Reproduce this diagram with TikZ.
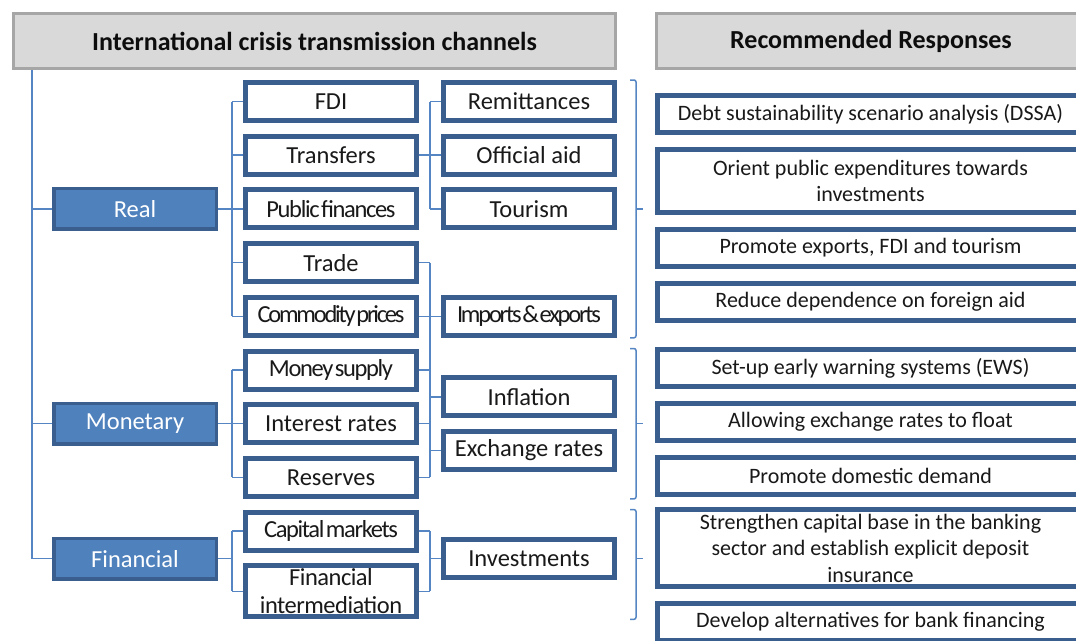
\documentclass[tikz,border=0pt]{standalone}
\usepackage{fontspec}
\setmainfont{Carlito}
\newfontfamily\tightfont[LetterSpace=-5.5, WordSpace=0.35]{Carlito}
\newfontfamily\tighterfont[LetterSpace=-9, WordSpace=0.2]{Carlito}
\newfontfamily\slimfont[LetterSpace=-2]{Carlito}
\usetikzlibrary{positioning,calc}
\definecolor{boxblue}{HTML}{3A5F8E}
\definecolor{catblue}{HTML}{4F81BD}
\definecolor{linkblue}{HTML}{5585C2}
\definecolor{headfill}{HTML}{D9D9D9}
\definecolor{headline}{HTML}{A6A6A6}

\begin{document}
\begin{tikzpicture}[x=1pt, y=-1pt, node distance=10.7pt and 22pt, box/.style={
% The shape:
rectangle, minimum width=171pt, minimum height=38pt, inner sep=0pt,
% The border:
draw=boxblue, line width=5pt, fill=white,
% The text:
text=black!90, font=\fontsize{24.5}{28}\selectfont
}, cat/.style={box, fill=catblue, line width=3.5pt, minimum width=162.5pt, minimum height=40.5pt, text=white},
tight/.style={font=\tightfont\fontsize{24.5}{28}\selectfont},
tighter/.style={font=\tighterfont\fontsize{24.5}{28}\selectfont},
resp/.style={box, anchor=west, minimum width=426pt, minimum height=37pt, align=center, font=\fontsize{22}{26.5}\selectfont},
head/.style={rectangle, draw=headline, fill=headfill, line width=3pt, minimum height=55pt, inner sep=0pt, text=black!95, font=\bfseries\fontsize{26}{30}\selectfont},
link/.style={draw=linkblue, line width=1.5pt}]

	\useasboundingbox (0,0) rectangle (1076,640);
	\clip (0,0) rectangle (1076,640);

	% headers
	\node (chan) [head, minimum width=602pt] at (314.5,41) {International crisis transmission channels};
	\node (recs) [head, minimum width=429pt] at (871,41) {Recommended Responses};

	% channels
	\node (fdi) [box] at (331,101.5) {FDI};
	\node (transfers) [box, below=of fdi] {Transfers};
	\node (pubfin) [box, tight, below=of transfers] {Public finances};
	\node (trade) [box, below=of pubfin] {Trade};
	\node (commod) [box, tighter, below=of trade] {Commodity prices};
	\node (money) [box, tight, below=of commod] {Money supply};
	\node (interest) [box, below=of money] {Interest rates};
	\node (reserves) [box, below=of interest] {Reserves};
	\node (capital) [box, tight, below=of reserves] {Capital markets};
	\node (finint) [box, below=of capital, minimum height=51pt, align=center, font=\slimfont\fontsize{24.5}{28}\selectfont] {Financial\\intermediation};

	\node (real) [cat, left=25pt of pubfin] {Real};
	\node (mon) [cat, left=25pt of interest] {Monetary};
	\coordinate (capfin) at ([yshift=2.5pt]$(capital.west)!.5!(finint.west)$);
	\node (fin) [cat, left=25pt of capfin] {Financial};

	\node (remit) [box, right=of fdi] {Remittances};
	\node (offaid) [box, right=of transfers] {Official aid};
	\node (tourism) [box, right=of pubfin] {Tourism};
	\node (imports) [box, tighter, right=of commod] {Imports \& exports};
	\coordinate (mi) at ($(money.east)!.5!(interest.east)$);
	\node (inflation) [box, right=of mi] {Inflation};
	\coordinate (ir) at ($(interest.east)!.5!(reserves.east)$);
	\node (exchange) [box, right=of ir] {Exchange rates};
	\coordinate (cf) at ([yshift=2.5pt]$(capital.east)!.5!(finint.east)$);
	\node (invest) [box, right=of cf] {Investments};

	% responses
	\node (dssa) [resp] at (655,114) {Debt sustainability scenario analysis (DSSA)};
	\node (orient) [resp, below=12pt of dssa, minimum height=63pt] {Orient public expenditures towards\\investments};
	\node (exports) [resp, below=12pt of orient] {Promote exports, FDI and tourism};
	\node (aid) [resp, below=12pt of exports] {Reduce dependence on foreign aid};
	\node (ews) [resp, below=24pt of aid] {Set-up early warning systems (EWS)};
	\node (float) [resp, below=12pt of ews] {Allowing exchange rates to float};
	\node (demand) [resp, below=12pt of float] {Promote domestic demand};
	\node (capbase) [resp, below=10pt of demand, minimum height=77pt] {Strengthen capital base in the banking\\sector and establish explicit deposit\\insurance};
	\node (develop) [resp, below=12pt of capbase] {Develop alternatives for bank financing};

	% trunk
	\coordinate (trunk) at ([xshift=20pt]chan.south west);
	\draw[link] (trunk) |- (fin.west);
	\draw[link] (trunk |- real.west) -- (real.west);
	\draw[link] (trunk |- mon.west) -- (mon.west);

	% channel groups
	\draw[link] (real.east) -- ++(14pt,0) coordinate (jr);
	\draw[link] (jr |- fdi.west) -- (jr |- commod.west);
	\foreach \n in {fdi,transfers,pubfin,trade,commod}
		\draw[link] (jr |- \n.west) -- (\n.west);
	\draw[link] (mon.east) -- ++(14pt,0) coordinate (jm);
	\draw[link] (jm |- money.west) -- (jm |- reserves.west);
	\foreach \n in {money,interest,reserves}
		\draw[link] (jm |- \n.west) -- (\n.west);
	\draw[link] (fin.east) -- ++(14pt,0) coordinate (jf);
	\draw[link] (jf |- capital.west) -- (jf |- finint.west);
	\foreach \n in {capital,finint}
		\draw[link] (jf |- \n.west) -- (\n.west);

	% effects
	\coordinate (k) at ([xshift=11pt]fdi.east);
	\draw[link] (transfers.east) -- (offaid.west);
	\draw[link] (k |- remit.west) -- (k |- tourism.west);
	\foreach \n in {remit,tourism}
		\draw[link] (k |- \n.west) -- (\n.west);
	\draw[link] (k |- trade.east) -- (k |- reserves.east);
	\foreach \n in {trade,commod,money,interest,reserves}
		\draw[link] (\n.east) -- (k |- \n.east);
	\foreach \n in {imports,inflation,exchange}
		\draw[link] (k |- \n.west) -- (\n.west);
	\draw[link] (k |- capital.east) -- (k |- finint.east);
	\foreach \n in {capital,finint}
		\draw[link] (\n.east) -- (k |- \n.east);
	\draw[link] (k |- invest.west) -- (invest.west);

	% braces
	\coordinate (br) at ([xshift=13pt]remit.east);
	\draw[link, rounded corners=2pt] (br |- remit.north) -- ++(6pt,0) |- (br |- imports.south);
	\draw[link] ([xshift=6pt]br |- tourism.east) -- ++(7pt,0);
	\draw[link, rounded corners=2pt] (br |- money.north) -- ++(6pt,0) |- (br |- reserves.south);
	\draw[link] ([xshift=6pt]br |- interest.east) -- ++(7pt,0);
	\draw[link, rounded corners=2pt] (br |- capital.north) -- ++(6pt,0) |- (br |- finint.south);
	\draw[link] ([xshift=6pt]br |- invest.east) -- ++(7pt,0);
\end{tikzpicture}
\end{document}
